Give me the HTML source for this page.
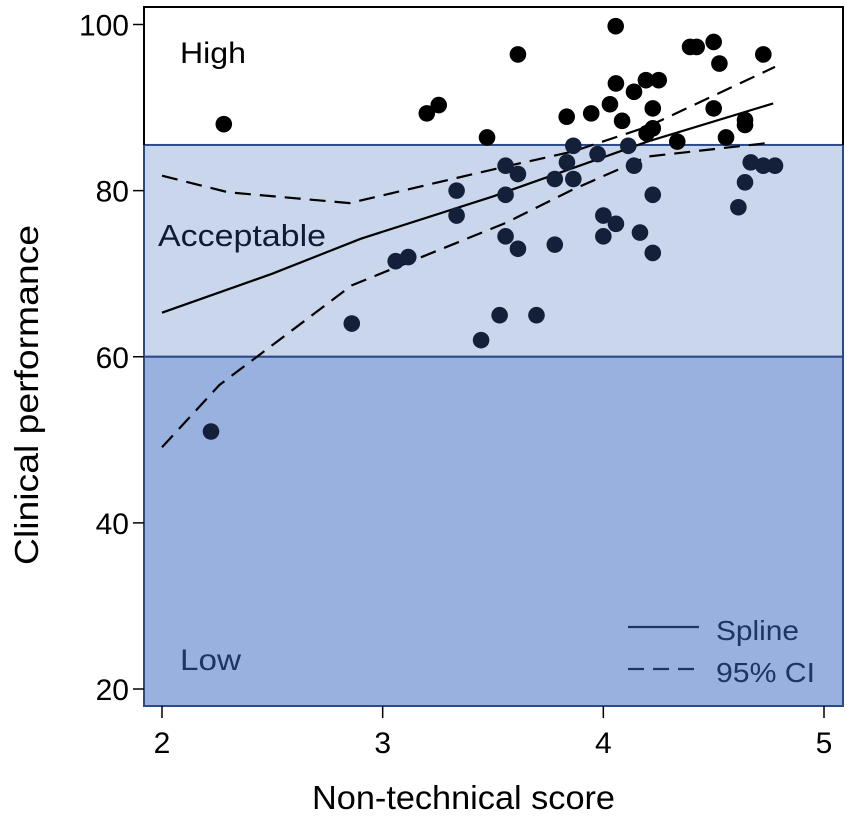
<!DOCTYPE html>
<html><head><meta charset="utf-8"><style>
body{margin:0;background:#fff}
svg{display:block;font-family:"Liberation Sans",Arial,sans-serif}
</style></head><body>
<svg id="chart" width="851" height="816" viewBox="0 0 851 816">
<g id="bands"></g>
<g id="axes"></g>
<g id="lines"></g>
<g id="points"></g>
<g id="labels"></g>
</svg>
<script>
const xs=[4.056,3.613,4.393,4.423,4.50,4.526,4.725,4.057,4.139,4.193,4.251,4.030,3.945,3.834,4.085,4.224,4.50,3.20,3.254,3.473,4.224,4.196,4.642,4.642,4.556,4.335,3.864,4.113,3.974,3.557,3.613,3.835,3.78,3.864,4.139,4.668,4.725,4.778,4.642,3.335,3.557,4.224,4.612,3.335,4.0,4.057,3.557,3.613,3.78,4.0,4.166,4.224,3.059,3.116,3.53,3.697,3.446,2.86,2.28,2.222];
const ys=[99.8,96.4,97.3,97.3,97.9,95.3,96.4,92.9,91.9,93.3,93.3,90.4,89.3,88.9,88.4,89.9,89.9,89.3,90.3,86.4,87.5,86.9,88.5,87.9,86.4,85.9,85.4,85.4,84.4,83.0,82.0,83.4,81.4,81.4,83.0,83.4,83.0,83.0,81.0,80.0,79.5,79.5,78.0,77.0,77.0,76.0,74.5,73.0,73.5,74.5,74.95,72.5,71.5,72.0,65.0,65.0,62.0,64.0,88.0,51.0];
const splineX=[2,2.5,2.9,3.5,4.2,4.77];
const splineY=[65.3,70,74.2,79.3,85.9,90.5];
const upperX=[2,2.3,2.85,3.557,3.86,4.2,4.778];
const upperY=[81.8,79.8,78.5,82.9,84.7,87.7,94.9];
const lowerX=[2,2.26,2.86,3.557,3.86,4.2,4.77];
const lowerY=[49.1,56.6,68.6,76.1,80.1,84.1,85.8];
const xTicks=[2,3,4,5];
const yTicks=[20,40,60,80,100];
const bandEdges=[60,85.5];

const NS="http://www.w3.org/2000/svg";
const L=144,R=843,T=7,B=706;
const sx=v=>162+(v-2)*(824-162)/3;
const sy=v=>24.5+(100-v)*(689-24.5)/80;
function mk(tag,attrs,parent,text){const e=document.createElementNS(NS,tag);for(const k in attrs)e.setAttribute(k,attrs[k]);if(text!==undefined)e.textContent=text;parent.appendChild(e);return e;}
const gB=document.getElementById('bands'),gA=document.getElementById('axes'),gL=document.getElementById('lines'),gP=document.getElementById('points'),gT=document.getElementById('labels');

let r=mk('rect',{x:L,y:sy(bandEdges[1]),width:R-L,height:sy(bandEdges[0])-sy(bandEdges[1]),fill:'#c9d6ec',stroke:'#2b4a88','stroke-width':2},gB);


r=mk('rect',{x:L,y:sy(bandEdges[0]),width:R-L,height:B-sy(bandEdges[0]),fill:'#98b1de',stroke:'#2b4a88','stroke-width':2},gB);


r=mk('path',{d:`M${L},${sy(bandEdges[1])}V${T}H${R}V${sy(bandEdges[1])}`,fill:'none',stroke:'#000','stroke-width':2},gB);



xTicks.forEach(v=>{
  let t=mk('line',{x1:sx(v),x2:sx(v),y1:B,y2:B+12,stroke:'#000','stroke-width':1.5},gA);
  
  
  t=mk('text',{x:sx(v),y:B+47,'text-anchor':'middle','font-size':30},gA,String(v));
  
  
});
yTicks.forEach(v=>{
  let t=mk('line',{x1:L-11,x2:L,y1:sy(v),y2:sy(v),stroke:'#000','stroke-width':1.5},gA);
  
  
  t=mk('text',{x:L-15,y:sy(v)+11,'text-anchor':'end','font-size':30},gA,String(v));
  
  
});

function path(X,Y){return X.map((x,i)=>(i?'L':'M')+sx(x).toFixed(1)+','+sy(Y[i]).toFixed(1)).join('');}
let p=mk('path',{d:path(splineX,splineY),fill:'none',stroke:'#000','stroke-width':2.2},gL);


p=mk('path',{d:path(upperX,upperY),fill:'none',stroke:'#000','stroke-width':2.2,'stroke-dasharray':'16 9'},gL);


p=mk('path',{d:path(lowerX,lowerY),fill:'none',stroke:'#000','stroke-width':2.2,'stroke-dasharray':'16 9'},gL);



xs.forEach((x,i)=>{
  const c=mk('circle',{cx:sx(x),cy:sy(ys[i]),r:8.3,fill:ys[i]>bandEdges[1]?'#000':'#14203a'},gP);
  
  
});

function txt(x,y,s,size,fill,extra){return mk('text',Object.assign({x:x,y:y,'font-size':size,fill:fill},extra||{}),gT,s);}
let t=txt(180,63,'High',30,'#000',{textLength:66,lengthAdjust:'spacingAndGlyphs'});


t=txt(158,246,'Acceptable',31,'#0f1a33',{textLength:168,lengthAdjust:'spacingAndGlyphs'});


t=txt(180,670,'Low',30,'#1f3460',{textLength:61,lengthAdjust:'spacingAndGlyphs'});


let l=mk('line',{x1:628,x2:699,y1:627,y2:627,stroke:'#1f3460','stroke-width':2.2},gT);


t=txt(716,640,'Spline',28,'#1f3460',{textLength:83,lengthAdjust:'spacingAndGlyphs'});


l=mk('line',{x1:628,x2:699,y1:669,y2:669,stroke:'#1f3460','stroke-width':2.2,'stroke-dasharray':'16 9'},gT);


t=txt(716,682,'95% CI',28,'#1f3460',{textLength:99,lengthAdjust:'spacingAndGlyphs'});


t=txt(312,809,'Non-technical score',33,'#000',{textLength:303,lengthAdjust:'spacingAndGlyphs'});


t=txt(0,0,'Clinical performance',33,'#000',{'text-anchor':'middle',textLength:340,lengthAdjust:'spacingAndGlyphs',transform:'translate(38,395) rotate(-90)'});


</script>
</body></html>
